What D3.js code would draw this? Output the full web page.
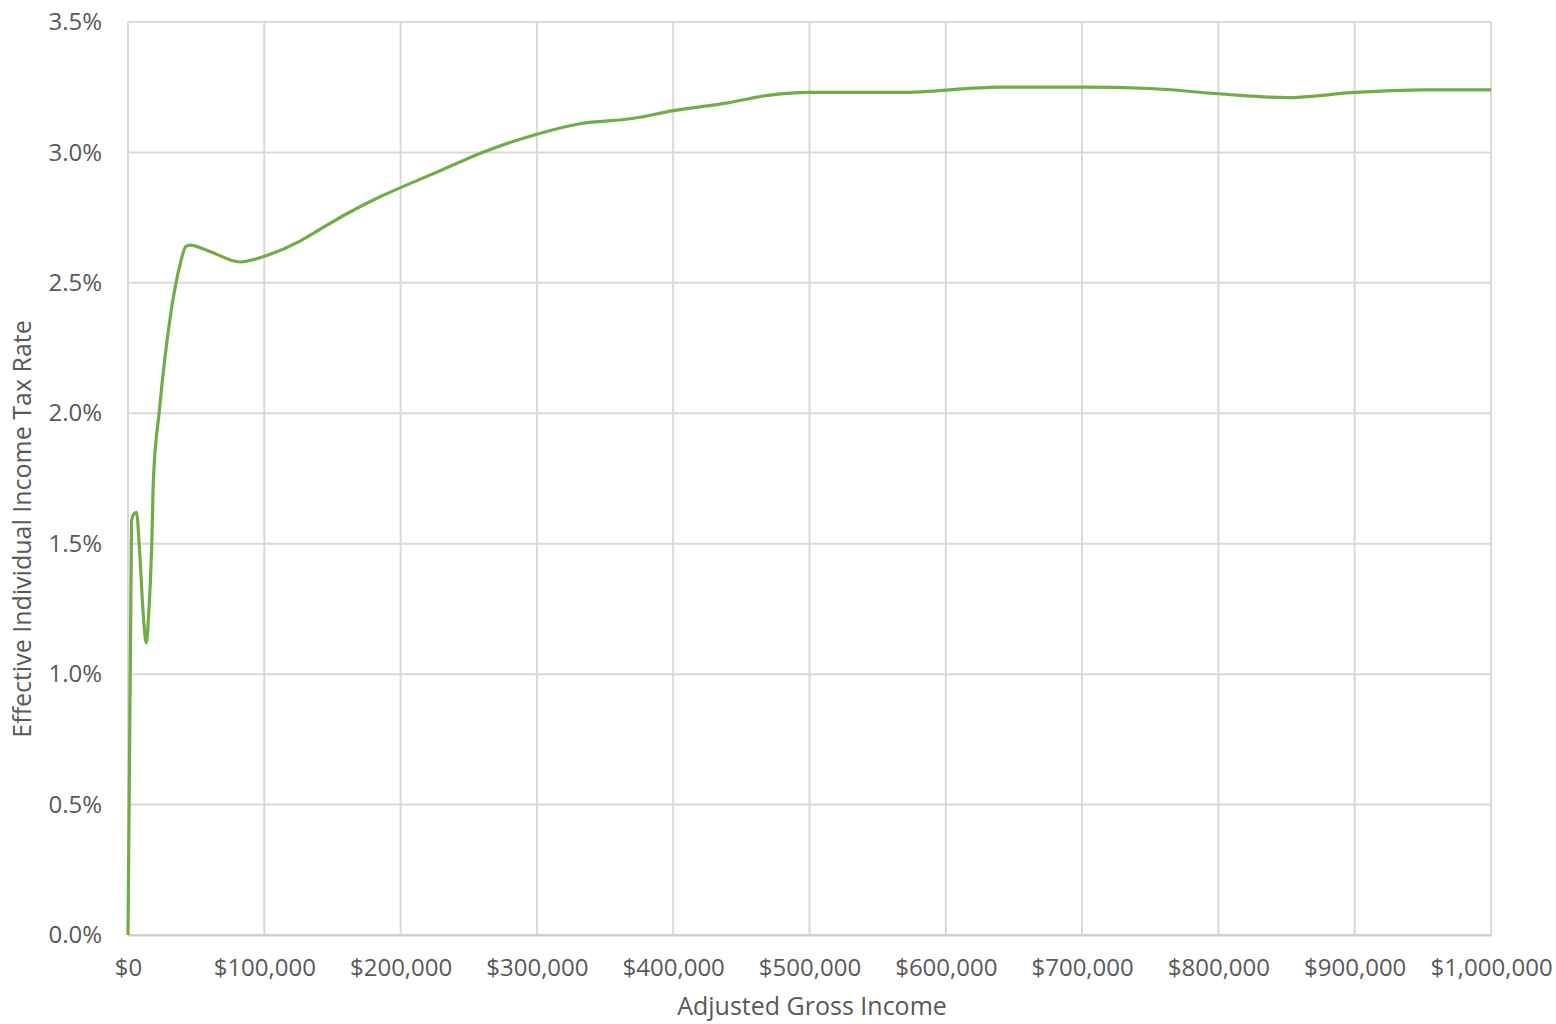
<!DOCTYPE html>
<html>
<head>
<meta charset="utf-8">
<script src="https://cdn.jsdelivr.net/npm/d3@7"></script>
<style>
  body { margin: 0; background: #ffffff; }
  svg text { font-family: "Open Sans", sans-serif; fill: #595959; }
</style>
</head>
<body>
<script>
// Adjusted gross income (dollars) and effective rate (percent)
let incomes = [0, 2600, 4500, 6300, 8300, 11200, 13400, 15200, 17400, 18600, 23000,
               31300, 38200, 42500, 45500, 60200, 82200, 101700, 126200, 136000, 160500, 184900, 200000,
               229000, 260000, 300000, 331600, 370000, 400000, 440000, 471000, 500000, 566000,
               640000, 700000, 750000, 800000, 850000, 900000, 950000, 1000000];
let rates = [0, 1.59, 1.615, 1.62, 1.49, 1.23, 1.12, 1.23, 1.49, 1.74, 2.01,
             2.38, 2.57, 2.64, 2.645, 2.62, 2.58, 2.605, 2.66, 2.69, 2.765, 2.83, 2.865,
             2.93, 3.0, 3.07, 3.11, 3.13, 3.16, 3.19, 3.22, 3.23, 3.23,
             3.25, 3.25, 3.245, 3.225, 3.21, 3.23, 3.24, 3.24];

let xTicks = [0, 100000, 200000, 300000, 400000, 500000, 600000, 700000, 800000, 900000, 1000000];
let yTicks = [0, 0.5, 1.0, 1.5, 2.0, 2.5, 3.0, 3.5];

let w = 1556, h = 1024;
let plotLeft = 128, plotRight = 1491, plotTop = 22, plotBottom = 935;

let svg = d3.select('body').append('svg')
  .attr('width', w)
  .attr('height', h);

let x = d3.scaleLinear().domain([0, 1000000]).range([plotLeft, plotRight]);
let y = d3.scaleLinear().domain([0, 3.5]).range([plotBottom, plotTop]);

// gridlines
svg.append('g')
  .selectAll('line')
  .data(yTicks)
  .enter().append('line')
  .attr('x1', plotLeft).attr('x2', plotRight)
  .attr('y1', d => y(d)).attr('y2', d => y(d))
  .attr('stroke', '#d9d9d9').attr('stroke-width', 2);

svg.append('g')
  .selectAll('line')
  .data(xTicks)
  .enter().append('line')
  .attr('x1', d => x(d)).attr('x2', d => x(d))
  .attr('y1', plotTop).attr('y2', plotBottom)
  .attr('stroke', '#d9d9d9').attr('stroke-width', 2);

// x axis
let xAxis = d3.axisBottom(x)
  .tickValues(xTicks)
  .tickSize(0)
  .tickPadding(24)
  .tickFormat(d => '$' + d3.format(',')(d));

svg.append('g')
  .attr('transform', 'translate(0,' + plotBottom + ')')
  .call(xAxis)
  .call(g => g.select('.domain').attr('stroke', '#d0cccc').attr('stroke-width', 2))
  .call(g => g.selectAll('text').style('font-size', '24px').attr('fill', '#595959'));

// y axis
let yAxis = d3.axisLeft(y)
  .tickValues(yTicks)
  .tickSize(0)
  .tickPadding(26)
  .tickFormat(d => d.toFixed(1) + '%');

svg.append('g')
  .attr('transform', 'translate(' + plotLeft + ',0)')
  .call(yAxis)
  .call(g => g.select('.domain').remove())
  .call(g => g.selectAll('text').style('font-size', '24px').attr('fill', '#595959'));

// series
let points = incomes.map((d, i) => [d, rates[i]]);
let line = d3.line()
  .x(d => x(d[0]))
  .y(d => y(d[1]))
  .curve(d3.curveMonotoneX);

svg.append('path')
  .datum(points)
  .attr('d', line)
  .attr('fill', 'none')
  .attr('stroke', '#70ad47')
  .attr('stroke-width', 3.2)
  .attr('stroke-linejoin', 'round');

// axis titles
svg.append('text')
  .attr('x', 812)
  .attr('y', 1015)
  .attr('text-anchor', 'middle')
  .style('font-size', '25px')
  .text('Adjusted Gross Income');

svg.append('text')
  .attr('transform', 'translate(31,529) rotate(-90)')
  .attr('text-anchor', 'middle')
  .style('font-size', '25px')
  .text('Effective Individual Income Tax Rate');
</script>
</body>
</html>
